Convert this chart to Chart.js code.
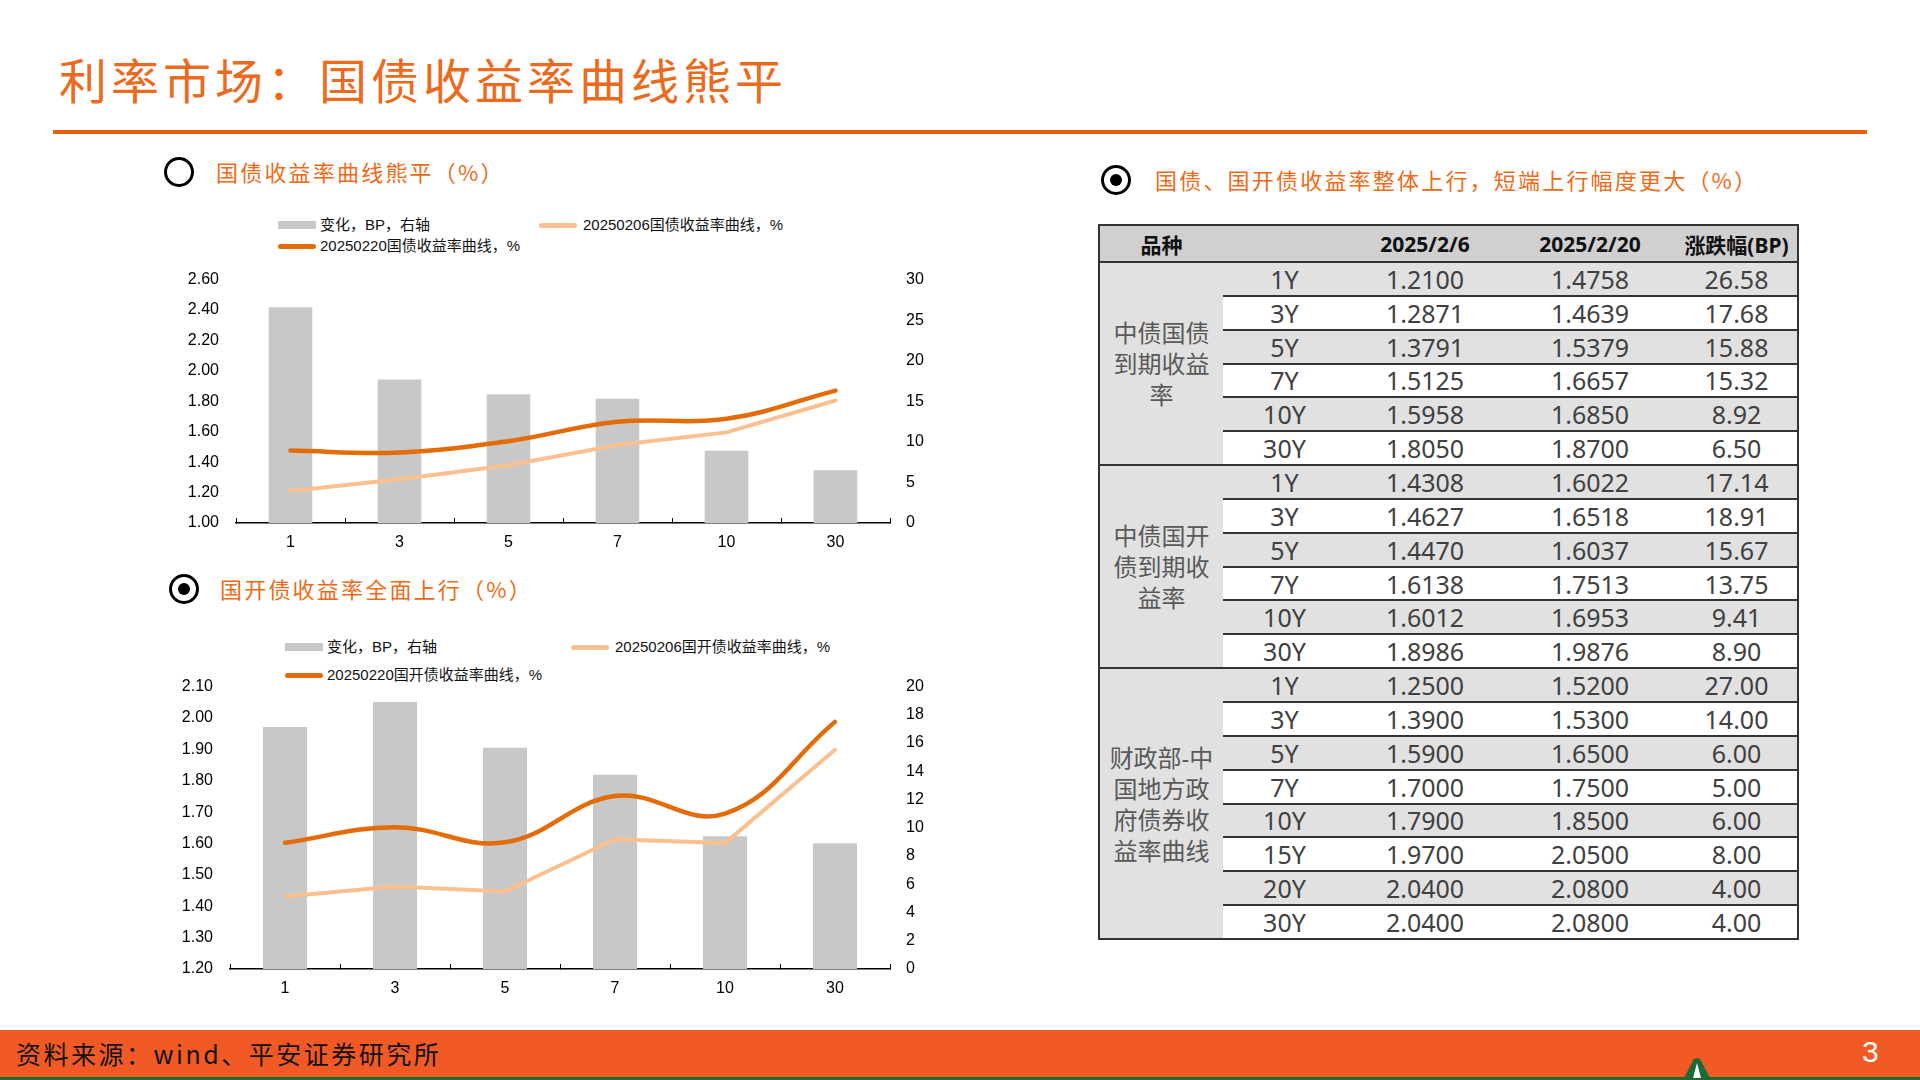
<!DOCTYPE html>
<html>
<head>
<meta charset="utf-8">
<script src="https://cdn.jsdelivr.net/npm/chart.js@4.4.1/dist/chart.umd.min.js"></script>
<style>
  body { margin: 0; width: 1920px; height: 1080px; background: #fff; position: relative; overflow: hidden;
         font-family: "Noto Sans", "Noto Sans CJK SC", sans-serif; }
  .abs { position: absolute; }
  #title { left: 59px; top: 52px; font-size: 48px; line-height: 52px; color: #EC6A1E; letter-spacing: 4px;
           font-family: "Noto Sans CJK SC"; }
  #rule { left: 53px; top: 130px; width: 1814px; height: 4px; background: #E85D0C; }
  .ring { width: 30px; height: 30px; border: 3px solid #000; border-radius: 50%; box-sizing: border-box; }
  .ring.dot::after { content: ""; position: absolute; left: 6px; top: 6px; width: 12px; height: 12px; border-radius: 50%; background: #000; }
  .head { font-size: 22px; line-height: 26px; color: #EE6A16; letter-spacing: 2.2px; font-family: "Noto Sans CJK SC"; }
  .lg { font-size: 15px; line-height: 16px; color: #111; font-family: "Liberation Sans", "Noto Sans CJK SC"; white-space: nowrap; }
  .sw { height: 8px; width: 38px; background: #C8C8C8; }
  .ln { height: 5px; width: 38px; border-radius: 3px; }
  #tbl { position: absolute; left: 1098px; top: 224px; width: 699px; border-collapse: collapse; table-layout: fixed;
         border: 2px solid #333; font-family: "Noto Sans", "Noto Sans CJK SC"; }
  #tbl td, #tbl th { padding: 0; text-align: center; vertical-align: middle; overflow: hidden; white-space: nowrap; }
  #tbl th { height: 35px; background: #D0D0D0; font-size: 21px; font-weight: bold; color: #111; border-bottom: 2px solid #333; }
  #tbl td { height: 31.85px; font-size: 25px; line-height: 30px; color: #404040; }
  #tbl td.grp { background: #E1E1E1; font-size: 24px; line-height: 31px; color: #595959; white-space: pre-line; }
  #tbl tr.g td { background: #E1E1E1; }
  #tbl tr.w td { background: #fff; }
  #tbl tr.sep td { border-top: 2px solid #333; }
  #tbl tr.gs td { border-top: 2px solid #333; }
  #footer { left: 0; top: 1030px; width: 1920px; height: 47px; background: #F15A24; }
  #green { left: 0; top: 1077px; width: 1920px; height: 3px; background: #1C6A36; }
  #src { left: 16px; top: 1039px; font-size: 25px; line-height: 28px; color: #111; letter-spacing: 2.5px; font-family: "Noto Sans CJK SC"; }
  #page { left: 1862px; top: 1034px; font-size: 30px; line-height: 36px; color: #fff; font-family: "Liberation Sans"; }
  #logo { left: 1684px; top: 1058px; width: 26px; height: 20px; background: #1C6A36;
          clip-path: polygon(50% 0, 62% 5%, 100% 100%, 0 100%, 38% 5%); }
  #logo::after { content: ""; position: absolute; left: 9px; top: 5px; width: 8px; height: 15px; background: #fff;
          clip-path: polygon(50% 0, 100% 100%, 0 100%); }
</style>
</head>
<body>
<div id="title" class="abs">利率市场：国债收益率曲线熊平</div>
<div id="rule" class="abs"></div>

<div class="abs ring" style="left:164px;top:157px;"></div>
<div class="abs head" style="left:216px;top:158px;">国债收益率曲线熊平（%）</div>
<div class="abs sw" style="left:278px;top:221px;"></div>
<div class="abs lg" style="left:320px;top:217px;">变化，BP，右轴</div>
<div class="abs ln" style="left:539px;top:223px;background:#FAC08F;"></div>
<div class="abs lg" style="left:583px;top:217px;">20250206国债收益率曲线，%</div>
<div class="abs ln" style="left:278px;top:244px;background:#E36C09;"></div>
<div class="abs lg" style="left:320px;top:238px;">20250220国债收益率曲线，%</div>
<canvas id="c1" class="abs" style="left:140px;top:253px;" width="800" height="310"></canvas>

<div class="abs ring dot" style="left:169px;top:574px;"></div>
<div class="abs head" style="left:220px;top:575px;">国开债收益率全面上行（%）</div>
<div class="abs sw" style="left:285px;top:643px;"></div>
<div class="abs lg" style="left:327px;top:639px;">变化，BP，右轴</div>
<div class="abs ln" style="left:571px;top:645px;background:#FAC08F;"></div>
<div class="abs lg" style="left:615px;top:639px;">20250206国开债收益率曲线，%</div>
<div class="abs ln" style="left:285px;top:673px;background:#E36C09;"></div>
<div class="abs lg" style="left:327px;top:667px;">20250220国开债收益率曲线，%</div>
<canvas id="c2" class="abs" style="left:140px;top:660px;" width="800" height="349"></canvas>

<div class="abs ring dot" style="left:1101px;top:165px;"></div>
<div class="abs head" style="left:1155px;top:166px;">国债、国开债收益率整体上行，短端上行幅度更大（%）</div>
<table id="tbl"></table>

<div id="footer" class="abs"></div>
<div id="green" class="abs"></div>
<div id="logo" class="abs"></div>
<div id="src" class="abs">资料来源：wind、平安证券研究所</div>
<div id="page" class="abs">3</div>

<script>
// chart categories (maturity, years)
const maturities = ['1', '3', '5', '7', '10', '30'];

// 中债国债到期收益率
const govTenors = ['1Y', '3Y', '5Y', '7Y', '10Y', '30Y'];
const gov0206 = [1.2100, 1.2871, 1.3791, 1.5125, 1.5958, 1.8050];
const gov0220 = [1.4758, 1.4639, 1.5379, 1.6657, 1.6850, 1.8700];
const govChg = [26.58, 17.68, 15.88, 15.32, 8.92, 6.50];

// 中债国开债到期收益率
const cdbTenors = ['1Y', '3Y', '5Y', '7Y', '10Y', '30Y'];
const cdb0206 = [1.4308, 1.4627, 1.4470, 1.6138, 1.6012, 1.8986];
const cdb0220 = [1.6022, 1.6518, 1.6037, 1.7513, 1.6953, 1.9876];
const cdbChg = [17.14, 18.91, 15.67, 13.75, 9.41, 8.90];

// 财政部-中国地方政府债券收益率曲线
const locTenors = ['1Y', '3Y', '5Y', '7Y', '10Y', '15Y', '20Y', '30Y'];
const loc0206 = [1.2500, 1.3900, 1.5900, 1.7000, 1.7900, 1.9700, 2.0400, 2.0400];
const loc0220 = [1.5200, 1.5300, 1.6500, 1.7500, 1.8500, 2.0500, 2.0800, 2.0800];
const locChg = [27.00, 14.00, 6.00, 5.00, 6.00, 8.00, 4.00, 4.00];

const tableHeader = ['品种', '', '2025/2/6', '2025/2/20', '涨跌幅(BP)'];
const groupNames = ['中债国债\n到期收益\n率', '中债国开\n债到期收\n益率', '财政部-中\n国地方政\n府债券收\n益率曲线'];

// ---- table ----
const tbl = document.getElementById('tbl');
let html = '<colgroup><col style="width:124px"><col style="width:123px"><col style="width:158px"><col style="width:172px"><col style="width:122px"></colgroup>';
html += '<tr>' +
  '<th>' + tableHeader[0] + '</th><th>' + tableHeader[1] + '</th><th>' + tableHeader[2] + '</th>' +
  '<th>' + tableHeader[3] + '</th><th>' + tableHeader[4] + '</th></tr>';
const groups = [
  [groupNames[0], govTenors, gov0206, gov0220, govChg],
  [groupNames[1], cdbTenors, cdb0206, cdb0220, cdbChg],
  [groupNames[2], locTenors, loc0206, loc0220, locChg]
];
groups.forEach(function (g, gi) {
  const [name, ten, a, b, chg] = g;
  ten.forEach(function (t, i) {
    let cls = (i % 2 === 0 ? 'g' : 'w');
    if (i === 0 && gi > 0) cls += ' gs';
    if (i > 0) cls += ' sep';
    html += '<tr class="' + cls + '">';
    if (i === 0) html += '<td class="grp" rowspan="' + ten.length + '">' + name + '</td>';
    html += '<td>' + t + '</td><td>' + a[i].toFixed(4) + '</td><td>' + b[i].toFixed(4) + '</td><td>' + chg[i].toFixed(2) + '</td></tr>';
  });
});
tbl.innerHTML = html;

// ---- charts ----
const tickFont = { family: 'Liberation Sans', size: 16 };

function makeChart(id, bars, old, cur, yMin, yMax, yStep, y2Max, y2Step, leftW) {
  return new Chart(document.getElementById(id), {
    data: {
      labels: maturities,
      datasets: [
        { type: 'line', data: cur, yAxisID: 'y', borderColor: '#E36C09', borderWidth: 4.5,
          pointRadius: 0, tension: 0.4, fill: false, order: 1, borderCapStyle: 'round' },
        { type: 'line', data: old, yAxisID: 'y', borderColor: '#FAC08F', borderWidth: 4,
          pointRadius: 0, tension: 0, fill: false, order: 2, borderCapStyle: 'round' },
        { type: 'bar', data: bars, yAxisID: 'y2', backgroundColor: '#C8C8C8',
          barPercentage: 0.4, categoryPercentage: 1, order: 3 }
      ]
    },
    options: {
      responsive: false,
      animation: false,
      layout: { padding: 0 },
      plugins: { legend: { display: false }, tooltip: { enabled: false } },
      scales: {
        x: {
          offset: true,
          grid: { display: true, offset: true, drawOnChartArea: false, drawTicks: true, tickLength: -5, color: '#000', lineWidth: 1 },
          border: { display: true, color: '#000', width: 1.5 },
          ticks: { padding: 15, color: '#000', font: tickFont, maxRotation: 0 },
          afterFit: function (s) { s.height = 40; }
        },
        y: {
          position: 'left', min: yMin, max: yMax,
          grid: { display: false, drawTicks: false },
          border: { display: false },
          ticks: { stepSize: yStep, padding: 17, color: '#000', font: tickFont, callback: v => Number(v).toFixed(2) },
          afterFit: function (s) { s.width = leftW; }
        },
        y2: {
          position: 'right', min: 0, max: y2Max,
          grid: { display: false, drawTicks: false },
          border: { display: false },
          ticks: { stepSize: y2Step, padding: 16, color: '#000', font: tickFont },
          afterFit: function (s) { s.width = 50; }
        }
      }
    }
  });
}

makeChart('c1', govChg, gov0206, gov0220, 1.0, 2.6, 0.2, 30, 5, 96);
makeChart('c2', cdbChg, cdb0206, cdb0220, 1.2, 2.1, 0.1, 20, 2, 90);
</script>
</body>
</html>
